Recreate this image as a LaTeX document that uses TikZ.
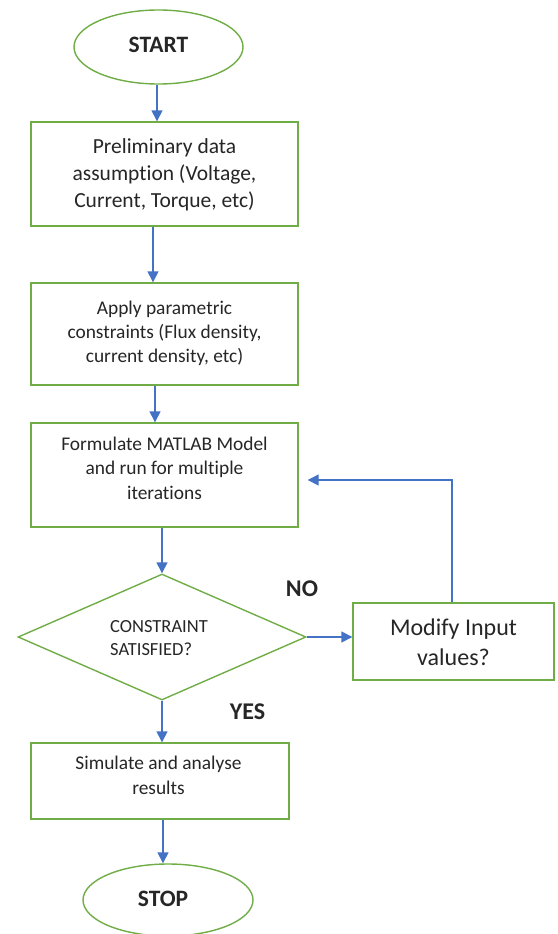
\documentclass[tikz,border=0pt]{standalone}
\usepackage{fontspec}
\setmainfont{Carlito}[Ligatures=NoCommon]
\usetikzlibrary{shapes.geometric,arrows.meta}
\definecolor{boxgreen}{HTML}{70AD47}
\definecolor{arrblue}{HTML}{4472C4}
\definecolor{txt}{HTML}{262626}
\begin{document}
\begin{tikzpicture}[x=1pt,y=-1pt,
  box/.style={draw=boxgreen,line width=1.4pt,fill=white,inner sep=0pt},
  oval/.style={ellipse,draw=boxgreen,line width=1.4pt,inner sep=0pt},
  txtnode/.style={text=txt,align=center,inner sep=0pt},
  conn/.style={draw=arrblue,line width=1.4pt,-{Triangle[length=11pt,width=11pt]}}]
\useasboundingbox (0,0) rectangle (557,934);
% shapes
\node[oval,minimum width=169pt,minimum height=74pt] (start) at (158.5,47) {};
\node[txtnode,font=\fontsize{23.5}{28}\selectfont\bfseries] (tstart) at (158.5,45) {START};
\node[box,minimum width=267pt,minimum height=104pt] (box1) at (164.5,174) {};
\node[txtnode,font=\fontsize{21.5}{27}\selectfont] (t1) at (164.5,175) {Preliminary data\\assumption (Voltage,\\Current, Torque, etc)};
\node[box,minimum width=267pt,minimum height=102pt] (box2) at (164.5,334) {};
\node[txtnode,font=\fontsize{19.4}{24}\selectfont] (t2) at (164.5,333) {Apply parametric\\constraints (Flux density,\\current density, etc)};
\node[box,minimum width=267pt,minimum height=104pt] (box3) at (164.5,475) {};
\node[txtnode,font=\fontsize{19.4}{24.5}\selectfont] (t3) at (164.5,468) {Formulate MATLAB Model\\and run for multiple\\iterations};
\node[diamond,draw=boxgreen,line width=1.4pt,minimum width=288pt,minimum height=126pt,inner sep=0pt] (dec) at (162,637) {};
\node[txtnode,align=left,anchor=west,font=\fontsize{18.5}{23}\selectfont] (td) at (110,638.5) {CONSTRAINT\\SATISFIED?};
\node[box,minimum width=201pt,minimum height=77pt] (mod) at (453.5,641.5) {};
\node[txtnode,font=\fontsize{24}{30}\selectfont] (tm) at (453.5,642) {Modify Input\\values?};
\node[box,minimum width=258pt,minimum height=76pt] (box4) at (160,781) {};
\node[txtnode,font=\fontsize{19.4}{25}\selectfont] (t4) at (158.5,775.5) {Simulate and analyse\\results};
\node[oval,minimum width=170pt,minimum height=72pt] (stop) at (168,900) {};
\node[txtnode,font=\fontsize{23.5}{28}\selectfont\bfseries] (tstop) at (163,899) {STOP};
% labels
\node[txtnode,font=\fontsize{24}{28}\selectfont\bfseries] (no) at (302,589) {NO};
\node[txtnode,font=\fontsize{24}{28}\selectfont\bfseries] (yes) at (247.5,712) {YES};
% connectors
\draw[conn] ([xshift=-1.5pt]start.south) -- ([xshift=-1.5pt]start.south |- box1.north);
\draw[conn] ([xshift=-11.5pt]box1.south) -- ([xshift=-11.5pt]box2.north);
\draw[conn] ([xshift=-9.5pt]box2.south) -- ([xshift=-9.5pt]box2.south |- box3.north);
\draw[conn] (dec.north |- box3.south) -- (dec.north);
\draw[conn] (dec.east) -- (dec.east -| mod.west);
\draw[conn] (dec.south) -- (dec.south |- box4.north);
\draw[conn] ([xshift=3pt]box4.south) -- ([xshift=-5pt]stop.north);
\draw[conn] ([xshift=-1.5pt]mod.north) |- ([xshift=9pt,yshift=-5pt]box3.east);
\end{tikzpicture}
\end{document}
